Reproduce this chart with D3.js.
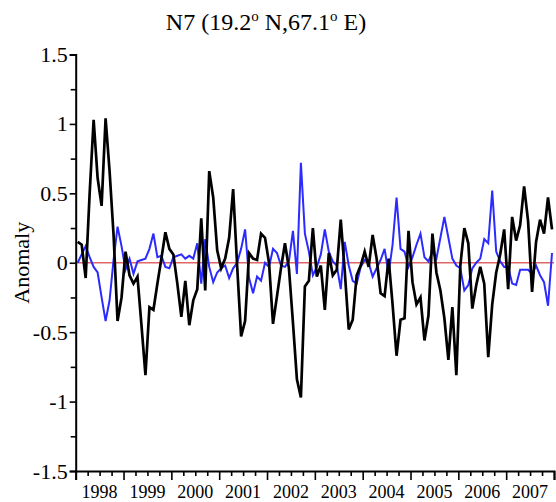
<!DOCTYPE html>
<html>
<head>
<meta charset="utf-8">
<script src="https://cdn.jsdelivr.net/npm/d3@7"></script>
<style>
  html, body { margin: 0; padding: 0; background: #fff; }
  svg { display: block; }
  text { font-family: "Liberation Serif", "Times New Roman", serif; }
</style>
</head>
<body>
<svg id="chart" width="556" height="502"></svg>
<script>
// Monthly anomalies, Jan 1998 – Dec 2007 (one row per year)
const blackSeries = [
  0.15, 0.13, -0.11, 0.5, 1.03, 0.61, 0.41, 1.04, 0.66, 0.2, -0.42, -0.25,
  0.08, -0.09, -0.15, -0.1, -0.45, -0.81, -0.32, -0.34, -0.15, 0.03, 0.22, 0.1,
  0.06, -0.15, -0.39, -0.13, -0.45, -0.27, -0.19, 0.32, -0.2, 0.66, 0.47, 0.09,
  -0.04, 0.03, 0.18, 0.53, -0.02, -0.53, -0.42, 0.07, 0.03, 0.02, 0.21, 0.18,
  0.0, -0.44, -0.24, -0.04, 0.14, -0.04, -0.43, -0.84, -0.97, -0.17, -0.13, 0.25,
  -0.1, -0.02, -0.34, 0.07, -0.09, -0.05, 0.31, -0.06, -0.48, -0.41, -0.09, -0.02,
  0.08, -0.03, 0.2, 0.03, -0.22, -0.24, 0.03, -0.3, -0.67, -0.41, -0.4, 0.23,
  -0.14, -0.3, -0.25, -0.56, -0.38, 0.21, -0.07, -0.2, -0.4, -0.7, -0.32, -0.81,
  -0.02, 0.25, 0.14, -0.33, -0.16, -0.03, -0.15, -0.68, -0.3, -0.07, 0.06, 0.24,
  -0.19, 0.33, 0.16, 0.27, 0.55, 0.3, -0.21, 0.15, 0.31, 0.21, 0.47, 0.24
];
const blueSeries = [
  0.0, 0.06, 0.12, 0.04, -0.03, -0.07, -0.25, -0.42, -0.27, 0.02, 0.26, 0.12,
  -0.05, 0.03, -0.08, 0.01, 0.02, 0.03, 0.1, 0.21, 0.04, 0.05, -0.03, -0.04,
  0.04, 0.05, 0.06, 0.03, 0.05, 0.03, 0.14, -0.15, 0.17, -0.03, -0.14, -0.07,
  -0.04, -0.02, -0.11, -0.04, 0.0, 0.1, 0.24, -0.11, -0.22, -0.1, -0.13, 0.0,
  -0.03, 0.1, 0.07, -0.02, -0.03, 0.01, 0.23, -0.08, 0.72, 0.21, 0.08, -0.09,
  -0.03, 0.06, 0.24, 0.08, 0.01, -0.02, -0.19, 0.15, -0.02, -0.13, -0.15, -0.03,
  0.02, 0.0, -0.1, -0.04, 0.02, 0.1, -0.08, 0.13, 0.47, 0.1, 0.08, -0.03,
  0.04, 0.13, 0.21, 0.04, 0.01, 0.08, 0.03, 0.18, 0.33, 0.18, 0.03, -0.02,
  -0.04, -0.2, -0.16, -0.04, 0.0, 0.03, 0.17, 0.14, 0.52, 0.08, 0.01, -0.03,
  -0.03, -0.15, -0.16, -0.05, -0.05, -0.05, -0.08, -0.02, -0.09, -0.14, -0.31, 0.07
];
const years = [1998, 1999, 2000, 2001, 2002, 2003, 2004, 2005, 2006, 2007];
const yTicks = [-1.5, -1, -0.5, 0, 0.5, 1, 1.5];
const yMinorTicks = [-1.25, -0.75, -0.25, 0.25, 0.75, 1.25];
const firstYear = 1998;
const lastYear = 2008;

const svg = d3.select("#chart");

const x = d3.scaleLinear().domain([firstYear, lastYear]).range([75.7, 554]);
const y = d3.scaleLinear().domain([-1.5, 1.5]).range([471, 54.5]);

const monthX = i => x(firstYear + (i + 0.5) / 12);

// zero reference line
svg.append("line")
  .attr("x1", x(firstYear)).attr("x2", x(lastYear))
  .attr("y1", y(0)).attr("y2", y(0))
  .attr("stroke", "#e06666").attr("stroke-width", 1.3);

const line = d3.line().x((d, i) => monthX(i)).y(d => y(d));

svg.append("path").datum(blueSeries)
  .attr("d", line).attr("fill", "none")
  .attr("stroke", "#2b2bff").attr("stroke-width", 2)
  .attr("stroke-linejoin", "miter");

svg.append("path").datum(blackSeries)
  .attr("d", line).attr("fill", "none")
  .attr("stroke", "#000").attr("stroke-width", 2.7)
  .attr("stroke-linejoin", "miter");

// y axis
const yAxis = svg.append("g")
  .attr("transform", `translate(${x(firstYear)},0)`)
  .call(d3.axisLeft(y).tickValues(yTicks).tickSize(6).tickPadding(2)
    .tickFormat(d => String(d)));
svg.append("g")
  .attr("transform", `translate(${x(firstYear)},0)`)
  .call(d3.axisLeft(y).tickValues(yMinorTicks).tickSize(5).tickFormat(""))
  .select(".domain").remove();

// x axis: yearly major ticks, quarterly minor ticks, labels centred in each year
const quarters = d3.range(firstYear, lastYear, 0.25).filter(v => v % 1 !== 0);
svg.append("g")
  .attr("transform", `translate(0,${y(-1.5)})`)
  .call(d3.axisBottom(x).tickValues(d3.range(firstYear, lastYear + 1)).tickSize(9).tickFormat(""));
svg.append("g")
  .attr("transform", `translate(0,${y(-1.5)})`)
  .call(d3.axisBottom(x).tickValues(quarters).tickSize(5).tickFormat(""))
  .select(".domain").remove();

svg.selectAll("g .domain").attr("stroke-width", 2);
svg.selectAll("g .tick line").attr("stroke-width", 1.6);

yAxis.selectAll("text").attr("font-size", 22).attr("fill", "#000");

svg.append("g").selectAll("text").data(years).join("text")
  .attr("x", d => x(d + 0.5))
  .attr("y", y(-1.5) + 27)
  .attr("text-anchor", "middle")
  .attr("font-size", 18)
  .text(d => d);

// axis title
svg.append("text")
  .attr("transform", `translate(29,${y(0)}) rotate(-90)`)
  .attr("text-anchor", "middle")
  .attr("font-size", 22)
  .text("Anomaly");

// chart title with superscript degree marks
const title = svg.append("text")
  .attr("x", 266).attr("y", 30)
  .attr("text-anchor", "middle")
  .attr("font-size", 24);
title.append("tspan").text("N7 (19.2");
title.append("tspan").attr("dy", -9).attr("font-size", 15).text("o");
title.append("tspan").attr("dy", 9).text(" N,67.1");
title.append("tspan").attr("dy", -9).attr("font-size", 15).text("o");
title.append("tspan").attr("dy", 9).text(" E)");
</script>
</body>
</html>
